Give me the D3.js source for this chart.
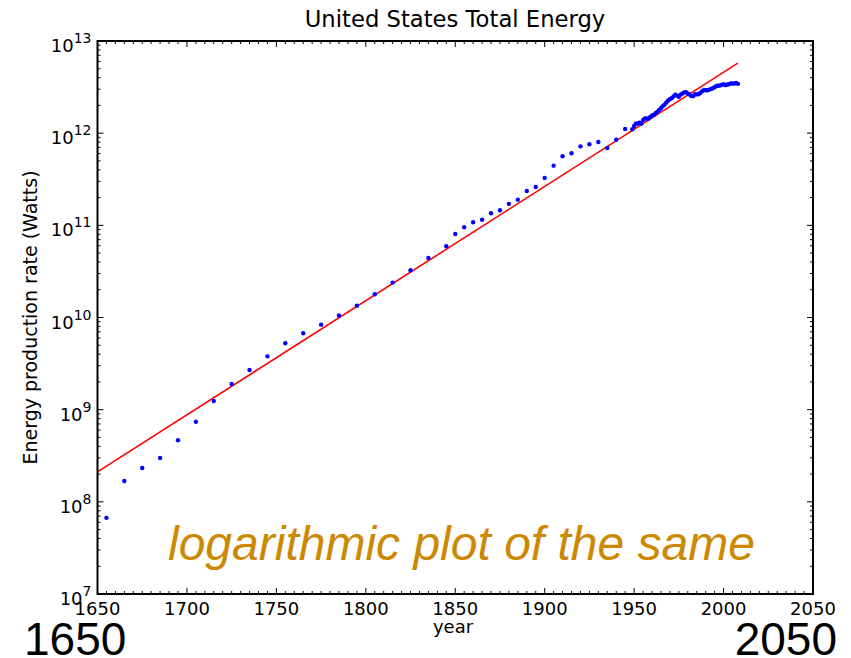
<!DOCTYPE html>
<html><head><meta charset="utf-8">
<script src="https://cdn.jsdelivr.net/npm/d3@7"></script>
<style>body{margin:0;background:#fff}svg{display:block}</style>
</head><body>
<svg id="c" width="851" height="658"></svg>
<script>
// Sparse historical points (year, watts)
const earlyYears = [1655,1665,1675,1685,1695,1705,1715,1725,1735,1745,1755,1765,1775,1785,1795,1805,1815,1825,1835,1845,
  1850,1855,1860,1865,1870,1875,1880,1885,1890,1895,1900,1905,1910,1915,1920,1925,1930,1935,1940,1945];
const earlyValues = [6.7e7,1.68e8,2.33e8,2.99e8,4.66e8,7.4e8,1.24e9,1.90e9,2.69e9,3.79e9,5.25e9,6.75e9,8.36e9,1.05e10,1.34e10,1.79e10,2.39e10,3.25e10,4.43e10,5.92e10,
  8.05e10,9.53e10,1.08e11,1.15e11,1.35e11,1.46e11,1.71e11,1.90e11,2.36e11,2.61e11,3.27e11,4.44e11,5.61e11,6.05e11,7.19e11,7.57e11,8.02e11,6.90e11,8.49e11,1.11e12];
// Annual points 1949-2008 (watts)
const annualYears = d3.range(1949, 2009);
const annualValues = [1.103e12,1.194e12,1.275e12,1.268e12,1.299e12,1.264e12,1.387e12,1.440e12,1.442e12,1.437e12,
  1.500e12,1.556e12,1.578e12,1.650e12,1.713e12,1.788e12,1.864e12,1.967e12,2.032e12,2.153e12,
  2.264e12,2.340e12,2.391e12,2.508e12,2.612e12,2.553e12,2.483e12,2.622e12,2.691e12,2.760e12,
  2.791e12,2.695e12,2.628e12,2.525e12,2.520e12,2.648e12,2.638e12,2.645e12,2.726e12,2.857e12,
  2.930e12,2.920e12,2.919e12,2.966e12,3.022e12,3.079e12,3.145e12,3.249e12,3.270e12,3.284e12,
  3.340e12,3.409e12,3.318e12,3.369e12,3.388e12,3.462e12,3.467e12,3.446e12,3.503e12,3.429e12];
// Exponential fit line
const fitYears = [1650, 2008];
const fitValues = [2.11e8, 5.75e12];
// Axes
const xTicks = [1650,1700,1750,1800,1850,1900,1950,2000,2050];
const yExponents = [7,8,9,10,11,12,13];
const titleText = "United States Total Energy";
const xLabel = "year";
const yLabel = "Energy production rate (Watts)";
const overlayText = "logarithmic plot of the same";
const cornerLabels = ["1650", "2050"];

const svg = d3.select("#c");
const L = 97.5, R = 813, T = 41, B = 594;
const x = d3.scaleLinear().domain([1650, 2050]).range([L, R]);
const y = d3.scaleLog().domain([1e7, 1e13]).range([B, T]);

svg.append("defs").append("clipPath").attr("id","clip")
  .append("rect").attr("x",L).attr("y",T).attr("width",R-L).attr("height",B-T);

const plot = svg.append("g").attr("clip-path","url(#clip)");

// fit line
plot.append("path")
  .datum(fitYears.map((d,i)=>[d,fitValues[i]]))
  .attr("d", d3.line().x(d=>x(d[0])).y(d=>y(d[1])))
  .attr("fill","none").attr("stroke","#ff0000").attr("stroke-width",1.6);

// points
const pts = earlyYears.map((d,i)=>[d,earlyValues[i]]).concat(annualYears.map((d,i)=>[d,annualValues[i]]));
plot.selectAll("circle.p").data(pts).join("circle")
  .attr("cx", d=>x(d[0])).attr("cy", d=>y(d[1])).attr("r", 2.2).attr("fill","#0000ff");

// ticks (inside, all sides)
const tk = svg.append("g").attr("stroke","#000").attr("stroke-width",1);
const minorX = d3.range(1650, 2051, 5).filter(v=>v%50!==0);
xTicks.forEach(v=>{
  tk.append("line").attr("x1",x(v)).attr("x2",x(v)).attr("y1",B).attr("y2",B-6);
  tk.append("line").attr("x1",x(v)).attr("x2",x(v)).attr("y1",T).attr("y2",T+6);
});
minorX.forEach(v=>{
  tk.append("line").attr("x1",x(v)).attr("x2",x(v)).attr("y1",B).attr("y2",B-3);
  tk.append("line").attr("x1",x(v)).attr("x2",x(v)).attr("y1",T).attr("y2",T+3);
});
yExponents.forEach(e=>{
  const v = Math.pow(10,e);
  tk.append("line").attr("x1",L).attr("x2",L+6).attr("y1",y(v)).attr("y2",y(v));
  tk.append("line").attr("x1",R).attr("x2",R-6).attr("y1",y(v)).attr("y2",y(v));
  if (e < 13) for (let m=2;m<=9;m++){
    const mv = m*v;
    tk.append("line").attr("x1",L).attr("x2",L+3).attr("y1",y(mv)).attr("y2",y(mv));
    tk.append("line").attr("x1",R).attr("x2",R-3).attr("y1",y(mv)).attr("y2",y(mv));
  }
});

// frame
svg.append("rect").attr("x",L).attr("y",T).attr("width",R-L).attr("height",B-T)
  .attr("fill","none").attr("stroke","#000").attr("stroke-width",2);

const font = "DejaVu Sans, sans-serif";
// x tick labels
svg.append("g").selectAll("text").data(xTicks).join("text")
  .attr("x", d=>x(d)).attr("y", B+21).attr("text-anchor","middle")
  .attr("font-family",font).attr("font-size",18).text(d=>d);

// y tick labels
const yl = svg.append("g");
yExponents.forEach(e=>{
  const t = yl.append("text").attr("x", L-6).attr("y", y(Math.pow(10,e))+11)
    .attr("text-anchor","end").attr("font-family",font).attr("font-size",18);
  t.append("tspan").text("10");
  t.append("tspan").attr("dy",-9).attr("font-size",14).text(String(e));
});

// title & labels
svg.append("text").attr("x",455).attr("y",27).attr("text-anchor","middle")
  .attr("font-family",font).attr("font-size",22.7).text(titleText);
svg.append("text").attr("x",453).attr("y",633).attr("text-anchor","middle")
  .attr("font-family",font).attr("font-size",18).text(xLabel);
svg.append("text").attr("transform",`translate(36.5,${(T+B)/2}) rotate(-90)`).attr("text-anchor","middle")
  .attr("font-family",font).attr("font-size",19).text(yLabel);

// overlay
svg.append("text").attr("x",168).attr("y",560)
  .attr("font-family","Liberation Sans, Arial, sans-serif").attr("font-style","italic")
  .attr("font-size",48).attr("fill","#cc8800").text(overlayText);
svg.append("text").attr("x",24).attr("y",655)
  .attr("font-family","Liberation Sans, Arial, sans-serif").attr("font-size",46).attr("fill","#000").text(cornerLabels[0]);
svg.append("text").attr("x",837).attr("y",655).attr("text-anchor","end")
  .attr("font-family","Liberation Sans, Arial, sans-serif").attr("font-size",46).attr("fill","#000").text(cornerLabels[1]);
</script>
</body></html>
